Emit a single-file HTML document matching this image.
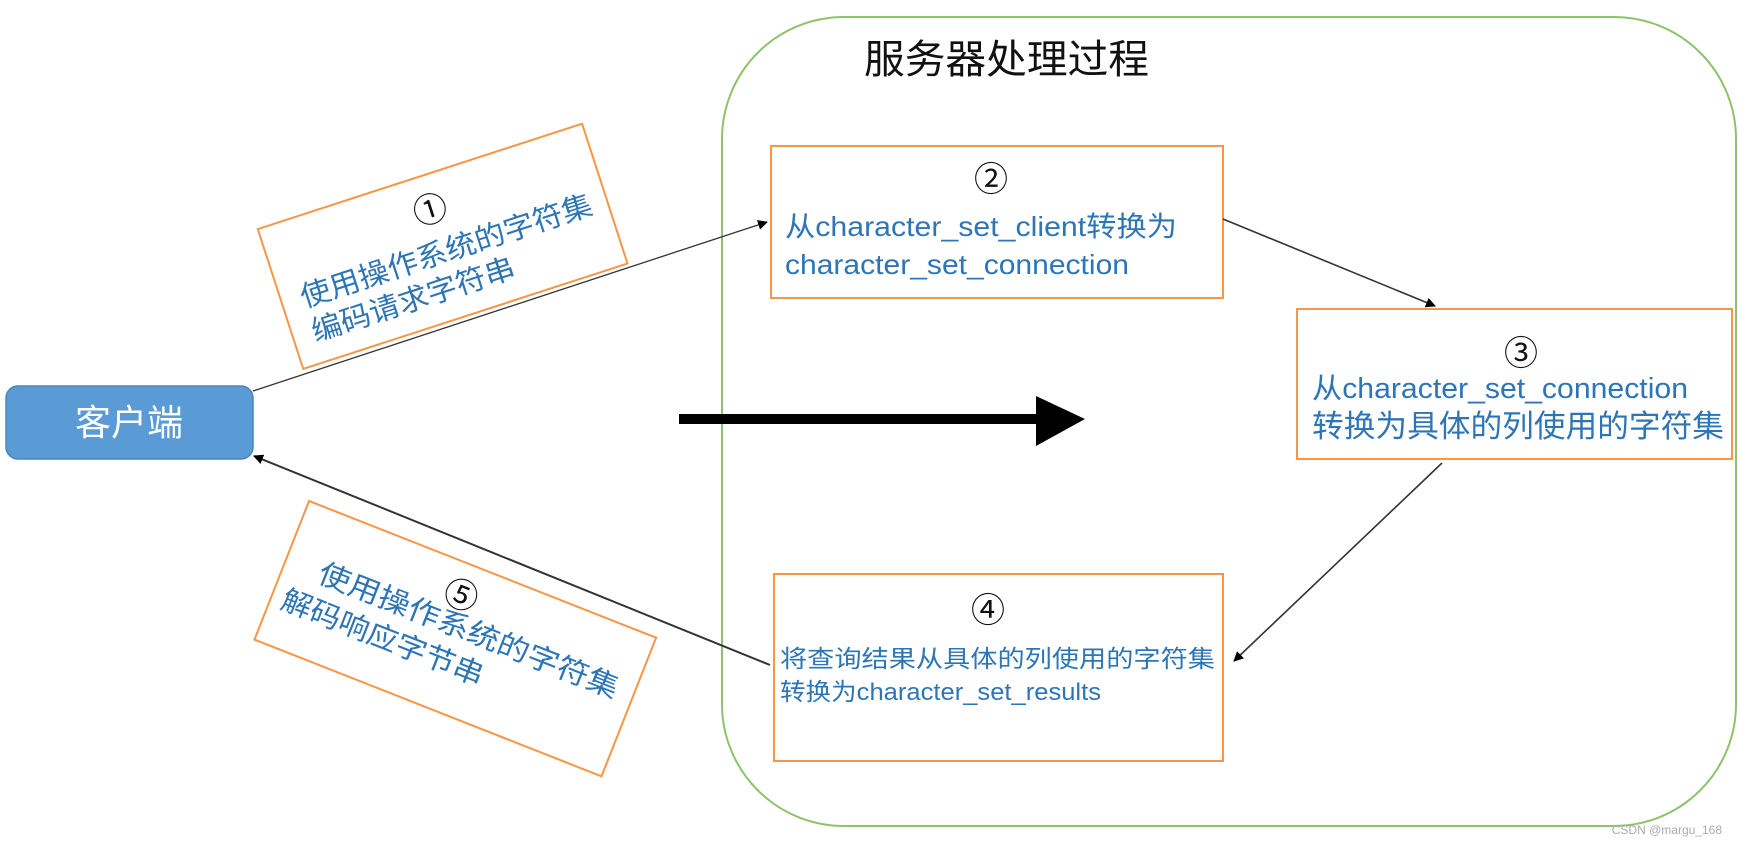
<!DOCTYPE html>
<html><head><meta charset="utf-8"><style>
html,body{margin:0;padding:0;background:#fff;}
svg{display:block;}
text{font-family:"Liberation Sans","Noto Sans CJK SC",sans-serif;}
</style></head><body>
<svg width="1738" height="844" viewBox="0 0 1738 844" xmlns="http://www.w3.org/2000/svg">
<defs>
<marker id="ah" markerWidth="10" markerHeight="10" refX="9" refY="5" orient="auto" markerUnits="userSpaceOnUse"><path d="M0,0 L10,5 L0,10 z" fill="#000"/></marker>
</defs>
<rect x="722" y="17" width="1014" height="809" rx="122" ry="122" fill="none" stroke="#8fc36b" stroke-width="2"/>
<text x="864" y="73" font-size="40" fill="#111" textLength="285" lengthAdjust="spacingAndGlyphs">服务器处理过程</text>

<rect x="6" y="386" width="247" height="73" rx="12" fill="#5b9bd5" stroke="#4a85bd" stroke-width="1.5"/>
<text x="129" y="435" font-size="36" fill="#fff" text-anchor="middle">客户端</text>

<!-- box 2 -->
<rect x="771" y="146" width="452" height="152" fill="#fff" stroke="#f79646" stroke-width="2"/>
<text x="991" y="191" font-size="34" fill="#111" text-anchor="middle">②</text>
<text x="785" y="236" font-size="28" fill="#2e75b6" textLength="392" lengthAdjust="spacingAndGlyphs">从character_set_client转换为</text>
<text x="785" y="274" font-size="28" fill="#2e75b6" textLength="344" lengthAdjust="spacingAndGlyphs">character_set_connection</text>

<!-- box 3 -->
<rect x="1297" y="309" width="435" height="150" fill="#fff" stroke="#f79646" stroke-width="2"/>
<text x="1521" y="365" font-size="34" fill="#111" text-anchor="middle">③</text>
<text x="1312" y="398" font-size="29" fill="#2e75b6" textLength="376" lengthAdjust="spacingAndGlyphs">从character_set_connection</text>
<text x="1312" y="437" font-size="31" fill="#2e75b6" textLength="412" lengthAdjust="spacingAndGlyphs">转换为具体的列使用的字符集</text>

<!-- box 4 -->
<rect x="774" y="574" width="449" height="187" fill="#fff" stroke="#f79646" stroke-width="2"/>
<text x="988" y="622" font-size="34" fill="#111" text-anchor="middle">④</text>
<text x="780" y="667" font-size="24" fill="#2e75b6" textLength="435" lengthAdjust="spacingAndGlyphs">将查询结果从具体的列使用的字符集</text>
<text x="780" y="700" font-size="24" fill="#2e75b6" textLength="321" lengthAdjust="spacingAndGlyphs">转换为character_set_results</text>

<!-- rotated box 1 -->
<g transform="translate(442,246) rotate(-18)">
<rect x="-170" y="-73" width="341" height="147" fill="#fff" stroke="#f79646" stroke-width="2"/>
<text x="0" y="-26" font-size="34" fill="#111" text-anchor="middle">①</text>
<text x="-150" y="16" font-size="29" fill="#2e75b6" textLength="305" lengthAdjust="spacingAndGlyphs">使用操作系统的字符集</text>
<text x="-150" y="52" font-size="29" fill="#2e75b6" textLength="212" lengthAdjust="spacingAndGlyphs">编码请求字符串</text>
</g>

<!-- rotated box 5 -->
<g transform="translate(455,638) rotate(21.5)">
<rect x="-186" y="-74" width="373" height="149" fill="#fff" stroke="#f79646" stroke-width="2"/>
<text x="-10" y="-30" font-size="34" fill="#111" text-anchor="middle">⑤</text>
<text x="-150" y="-2" font-size="29" fill="#2e75b6" textLength="320" lengthAdjust="spacingAndGlyphs">使用操作系统的字符集</text>
<text x="-175" y="36" font-size="29" fill="#2e75b6" textLength="215" lengthAdjust="spacingAndGlyphs">解码响应字节串</text>
</g>

<!-- connectors -->
<line x1="253" y1="391" x2="767" y2="222" stroke="#333" stroke-width="1.3" marker-end="url(#ah)"/>
<line x1="1223" y1="219" x2="1435" y2="306" stroke="#333" stroke-width="1.6" marker-end="url(#ah)"/>
<line x1="1442" y1="463" x2="1234" y2="661" stroke="#333" stroke-width="1.6" marker-end="url(#ah)"/>
<line x1="770" y1="665" x2="254" y2="456" stroke="#333" stroke-width="2" marker-end="url(#ah)"/>

<!-- big arrow -->
<rect x="679" y="414" width="360" height="10" fill="#000"/>
<path d="M1036,396 L1085,419 L1036,446 z" fill="#000"/>

<text x="1722" y="834" font-size="12" fill="#aaa" text-anchor="end">CSDN @margu_168</text>
</svg>
</body></html>
